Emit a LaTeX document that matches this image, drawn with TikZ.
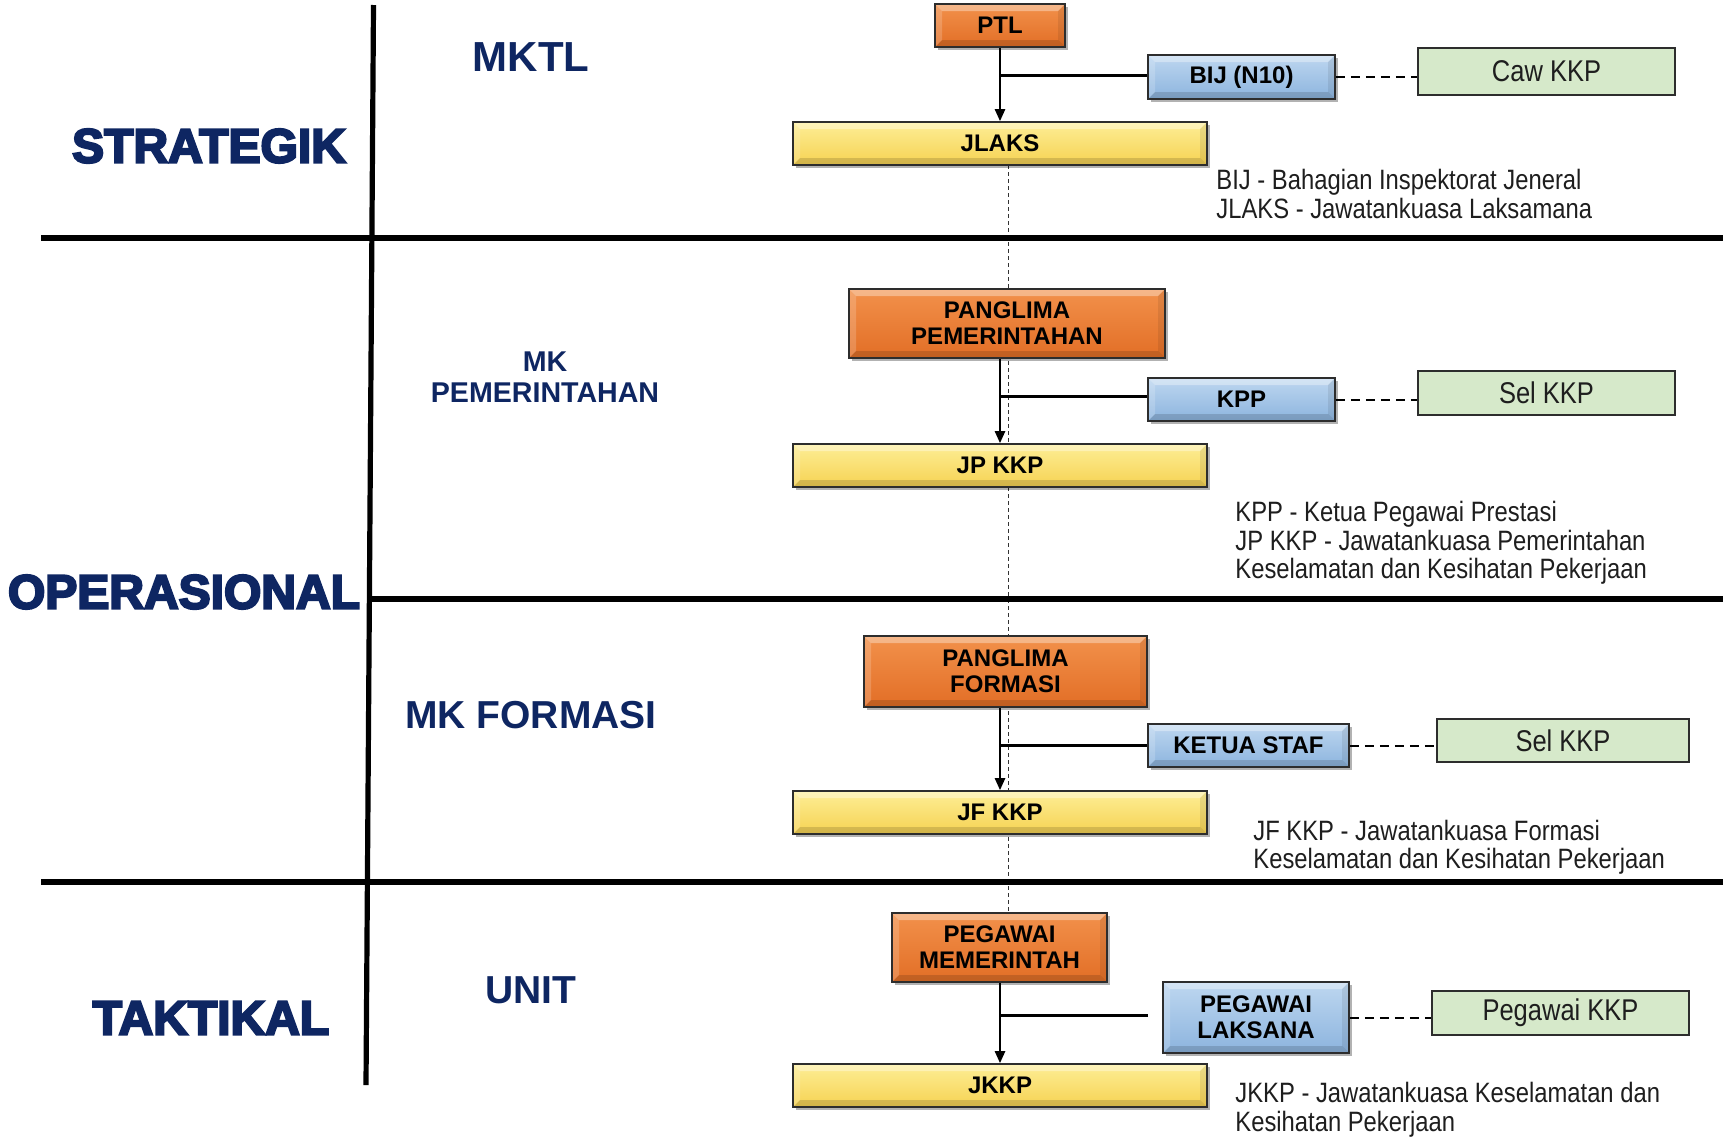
\documentclass[tikz,border=0pt]{standalone}
\usepackage{fontspec}
\setmainfont{Liberation Sans}
\newfontfamily\narrowfont{Liberation Sans}[FakeStretch=0.85]
\newcommand{\heavytxt}[1]{\special{pdf:literal 2 Tr 1.1 w}#1\special{pdf:literal 0 Tr}}
\usetikzlibrary{arrows.meta,shadows}
\definecolor{navy}{RGB}{14,38,98}
\definecolor{bordc}{RGB}{45,45,45}
\definecolor{orT}{RGB}{242,145,75}
\definecolor{orB}{RGB}{226,110,38}
\definecolor{blT}{RGB}{190,215,240}
\definecolor{blB}{RGB}{140,180,222}
\definecolor{yeT}{RGB}{253,238,150}
\definecolor{yeB}{RGB}{246,210,82}
\definecolor{grF}{RGB}{214,233,202}
\definecolor{txt}{RGB}{30,30,30}
\tikzset{
  bevel/.style={path picture={
    \fill[white,opacity=0.35] (path picture bounding box.north west) -- (path picture bounding box.north east)
      -- ([xshift=-3.5pt,yshift=-3.5pt]path picture bounding box.north east) -- ([xshift=3.5pt,yshift=-3.5pt]path picture bounding box.north west) -- cycle;
    \fill[white,opacity=0.18] (path picture bounding box.north west) -- (path picture bounding box.south west)
      -- ([xshift=3.5pt,yshift=3.5pt]path picture bounding box.south west) -- ([xshift=3.5pt,yshift=-3.5pt]path picture bounding box.north west) -- cycle;
    \fill[black,opacity=0.14] (path picture bounding box.south west) -- (path picture bounding box.south east)
      -- ([xshift=-3.5pt,yshift=3.5pt]path picture bounding box.south east) -- ([xshift=3.5pt,yshift=3.5pt]path picture bounding box.south west) -- cycle;
    \fill[black,opacity=0.08] (path picture bounding box.north east) -- (path picture bounding box.south east)
      -- ([xshift=-3.5pt,yshift=3.5pt]path picture bounding box.south east) -- ([xshift=-3.5pt,yshift=-3.5pt]path picture bounding box.north east) -- cycle;
  }},
  boxbase/.style={draw=bordc, line width=0.8pt, inner sep=0pt, align=center, text=black,
    font=\bfseries\fontsize{12}{13}\selectfont,
    drop shadow={shadow xshift=1.5pt, shadow yshift=-1.5pt, fill=black, opacity=0.3}},
  orbox/.style={boxbase, bevel, top color=orT, bottom color=orB},
  blbox/.style={boxbase, bevel, top color=blT, bottom color=blB},
  yebox/.style={boxbase, bevel, top color=yeT, bottom color=yeB},
  grbox/.style={draw=bordc, line width=0.8pt, inner sep=0pt, fill=grF, text=txt,
    font=\narrowfont\fontsize{15}{17}\selectfont},
  sepline/.style={line width=2.6pt, black},
  conn/.style={line width=1.5pt, black},
  arr/.style={line width=1.2pt, black, -{Triangle[length=6pt,width=5pt]}},
  dashconn/.style={line width=1pt, black, dash pattern=on 4.5pt off 3pt},
  centerline/.style={line width=0.4pt, black!80, dash pattern=on 2pt off 1.5pt},
  biglabel/.style={text=navy, inner sep=0pt, font=\bfseries\fontsize{24}{28}\selectfont},
  midlabel/.style={text=navy, inner sep=0pt, align=center},
  desc/.style={text=txt, inner sep=0pt, align=left, anchor=north west},
}
\begin{document}
\begin{tikzpicture}[x=0.5pt,y=-0.5pt]
\useasboundingbox[fill=white] (0,0) rectangle (1723,1136);

% dashed centre line (behind boxes)
\coordinate (ctop) at (1008,165);
\coordinate (cbot) at (1008,913);
\draw[centerline] (ctop) -- (cbot);

% separators
\draw[sepline] (41,238) -- (1723,238);
\draw[sepline] (370,599) -- (1723,599);
\draw[sepline] (41,882) -- (1723,882);
\draw[sepline] (373.5,5) -- (366,1085);

% left labels
\node[biglabel] (lstr) at (209,146) {\heavytxt{STRATEGIK}};
\node[biglabel] (lope) at (184,592) {\heavytxt{OPERASIONAL}};
\node[biglabel] (ltak) at (211,1018) {\heavytxt{TAKTIKAL}};

\node[midlabel, font=\bfseries\fontsize{21}{24}\selectfont] (lmktl) at (531,57) {MKTL};
\node[midlabel, font=\bfseries\fontsize{14.3}{15.5}\selectfont] (lmkp) at (545,377.5) {MK\\PEMERINTAHAN};
\node[midlabel, font=\bfseries\fontsize{19.5}{22}\selectfont] (lmkf) at (531,715) {MK FORMASI};
\node[midlabel, font=\bfseries\fontsize{19.5}{22}\selectfont] (lunit) at (531,990) {UNIT};

% section 1
\node[orbox, minimum width=65pt, minimum height=21.5pt] (PTL) at (1000,25.5) {PTL};
\node[blbox, minimum width=93.5pt, minimum height=22pt] (BIJ) at (1241.5,77) {BIJ (N10)};
\node[grbox, minimum width=128.5pt, minimum height=23.5pt] (CAW) at (1546.5,71.5) {Caw KKP};
\node[yebox, minimum width=207pt, minimum height=21.5pt] (JLAKS) at (1000,143.5) {JLAKS};
\draw[arr] (PTL.south) -- (JLAKS.north);
\draw[conn] ([yshift=1pt]BIJ.west) -- ([yshift=1pt]BIJ.west -| JLAKS.north);
\draw[dashconn] (BIJ.east) -- (BIJ.east -| CAW.west);
\node[desc, font=\narrowfont\fontsize{14}{14.5}\selectfont] (d1) at (1216,169)
  {BIJ - Bahagian Inspektorat Jeneral\\JLAKS - Jawatankuasa Laksamana};

% section 2
\node[orbox, minimum width=158pt, minimum height=34.5pt] (PP) at (1007,323.5) {PANGLIMA\\PEMERINTAHAN};
\node[blbox, minimum width=93.5pt, minimum height=21.5pt] (KPP) at (1241.5,399.5) {KPP};
\node[grbox, minimum width=128.5pt, minimum height=22pt] (SEL1) at (1546.5,393) {Sel KKP};
\node[yebox, minimum width=207pt, minimum height=21.5pt] (JPKKP) at (1000,465.5) {JP KKP};
\draw[arr] (PP.south -| JPKKP.north) -- (JPKKP.north);
\draw[conn] ([yshift=1.5pt]KPP.west) -- ([yshift=1.5pt]KPP.west -| JPKKP.north);
\draw[dashconn] (KPP.east) -- (KPP.east -| SEL1.west);
\node[desc, font=\narrowfont\fontsize{14}{14.25}\selectfont] (d2) at (1235,501)
  {KPP - Ketua Pegawai Prestasi\\JP KKP - Jawatankuasa Pemerintahan\\Keselamatan dan Kesihatan Pekerjaan};

% section 3
\node[orbox, minimum width=141.5pt, minimum height=35.5pt] (PF) at (1005.5,671.5) {PANGLIMA\\FORMASI};
\node[blbox, minimum width=100.5pt, minimum height=21.5pt] (KS) at (1248.5,745.5) {KETUA STAF};
\node[grbox, minimum width=126pt, minimum height=21.5pt] (SEL2) at (1563,740.5) {Sel KKP};
\node[yebox, minimum width=207pt, minimum height=21.5pt] (JFKKP) at (1000,812.5) {JF KKP};
\draw[arr] (PF.south -| JFKKP.north) -- (JFKKP.north);
\draw[conn] (KS.west) -- (KS.west -| JFKKP.north);
\draw[dashconn] (KS.east) -- (KS.east -| SEL2.west);
\node[desc, font=\narrowfont\fontsize{14}{14}\selectfont] (d3) at (1253,820)
  {JF KKP - Jawatankuasa Formasi\\Keselamatan dan Kesihatan Pekerjaan};

% section 4
\node[orbox, minimum width=107.5pt, minimum height=34.5pt] (PM) at (999.5,947.5) {PEGAWAI\\MEMERINTAH};
\node[blbox, minimum width=93pt, minimum height=35.5pt] (PL) at (1256,1017.5) {PEGAWAI\\LAKSANA};
\node[grbox, minimum width=128.5pt, minimum height=22pt] (PKKP) at (1560.5,1013) {Pegawai KKP};
\node[yebox, minimum width=207pt, minimum height=21.5pt] (JKKP) at (1000,1085.5) {JKKP};
\draw[arr] (PM.south -| JKKP.north) -- (JKKP.north);
\coordinate (plend) at (1148,1015);
\draw[conn] (plend) -- (plend -| JKKP.north);
\draw[dashconn] (PL.east) -- (PL.east -| PKKP.west);
\node[desc, font=\narrowfont\fontsize{14}{14.5}\selectfont] (d4) at (1235,1082)
  {JKKP - Jawatankuasa Keselamatan dan\\Kesihatan Pekerjaan};
\end{tikzpicture}
\end{document}
